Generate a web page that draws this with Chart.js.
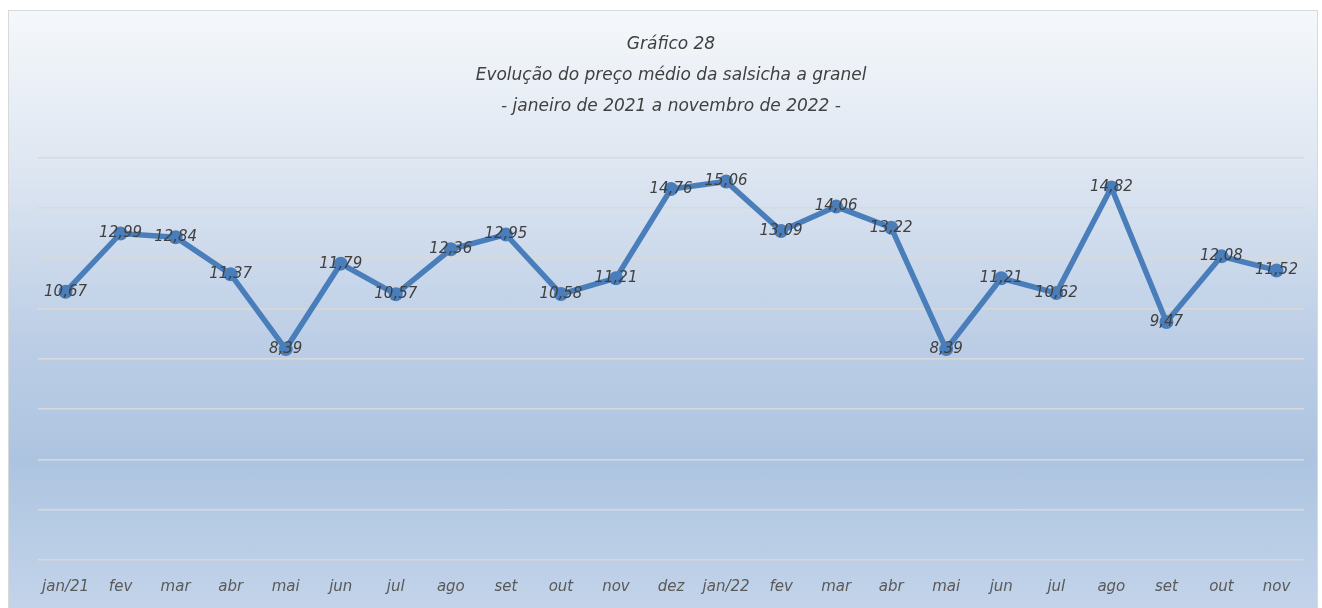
<!DOCTYPE html>
<html lang="pt">
<head>
    <meta charset="UTF-8">
    <title>Gráfico 28 - Salsicha a granel</title>
    <script src="https://cdn.jsdelivr.net/npm/chart.js@4.4.0/dist/chart.umd.min.js"></script>
    <style>
        body {
            margin: 0;
            background: #ffffff;
        }
        .chart-box {
            position: absolute;
            left: 8px;
            top: 10px;
            width: 1310px;
            height: 600px;
            border: 1px solid #d9d9d9;
            box-sizing: border-box;
            background: linear-gradient(to bottom, #f5f8fb 0%, #dfe7f2 25%, #bccee6 55%, #adc4e0 75%, #c3d4ea 100%);
        }
        canvas {
            display: block;
        }
    </style>
</head>
<body>

<div class="chart-box">
    <canvas id="grafico"></canvas>
</div>

<script>
    // meses de jan/21 a nov/22
    const meses = ['jan/21', 'fev', 'mar', 'abr', 'mai', 'jun', 'jul', 'ago', 'set', 'out', 'nov', 'dez',
        'jan/22', 'fev', 'mar', 'abr', 'mai', 'jun', 'jul', 'ago', 'set', 'out', 'nov'];

    // preço médio (R$/kg)
    const precoMedio = [10.67, 12.99, 12.84, 11.37, 8.39, 11.79, 10.57, 12.36, 12.95, 10.58, 11.21, 14.76,
        15.06, 13.09, 14.06, 13.22, 8.39, 11.21, 10.62, 14.82, 9.47, 12.08, 11.52];

    const tituloLinhas = ['Gráfico 28', 'Evolução do preço médio da salsicha a granel', '- janeiro de 2021 a novembro de 2022 -'];

    const fonte = "'DejaVu Sans', sans-serif";

    // rótulos de dados centrados nos pontos
    const rotulosPlugin = {
        id: 'rotulos',
        afterDatasetsDraw(chart) {
            const ctx = chart.ctx;
            const meta = chart.getDatasetMeta(0);
            ctx.save();
            ctx.font = 'italic 15px ' + fonte;
            ctx.fillStyle = '#404040';
            ctx.textAlign = 'center';
            ctx.textBaseline = 'middle';
            meta.data.forEach(function (pt, i) {
                const txt = precoMedio[i].toFixed(2).replace('.', ',');
                ctx.fillText(txt, pt.x, pt.y);
            });
            ctx.restore();
        }
    };

    const canvas = document.getElementById('grafico');
    canvas.width = 1308;
    canvas.height = 598;

    new Chart(canvas.getContext('2d'), {
        type: 'line',
        data: {
            labels: meses,
            datasets: [{
                data: precoMedio,
                borderColor: '#4a7ebb',
                backgroundColor: '#4a7ebb',
                borderWidth: 5.5,
                pointRadius: 7,
                pointHoverRadius: 7,
                pointBorderWidth: 0,
                tension: 0,
                fill: false
            }]
        },
        options: {
            responsive: false,
            animation: false,
            layout: {
                padding: { left: 29, right: 13, top: 0, bottom: -5 }
            },
            plugins: {
                legend: { display: false },
                tooltip: { enabled: false },
                title: {
                    display: true,
                    text: tituloLinhas,
                    color: '#404040',
                    font: { family: fonte, size: 17, style: 'italic', weight: 'normal', lineHeight: 1.82 },
                    padding: { top: 18, bottom: 36 }
                }
            },
            scales: {
                x: {
                    offset: true,
                    grid: { display: false, drawTicks: false },
                    border: { display: false },
                    ticks: {
                        color: '#595959',
                        padding: 18,
                        maxRotation: 0,
                        autoSkip: false,
                        font: { family: fonte, size: 15, style: 'italic' }
                    }
                },
                y: {
                    min: 0,
                    max: 16,
                    ticks: { stepSize: 2, display: false },
                    grid: { color: '#d9d9d9', lineWidth: 1.5, drawTicks: false },
                    border: { display: false }
                }
            }
        },
        plugins: [rotulosPlugin]
    });
</script>

</body>
</html>
